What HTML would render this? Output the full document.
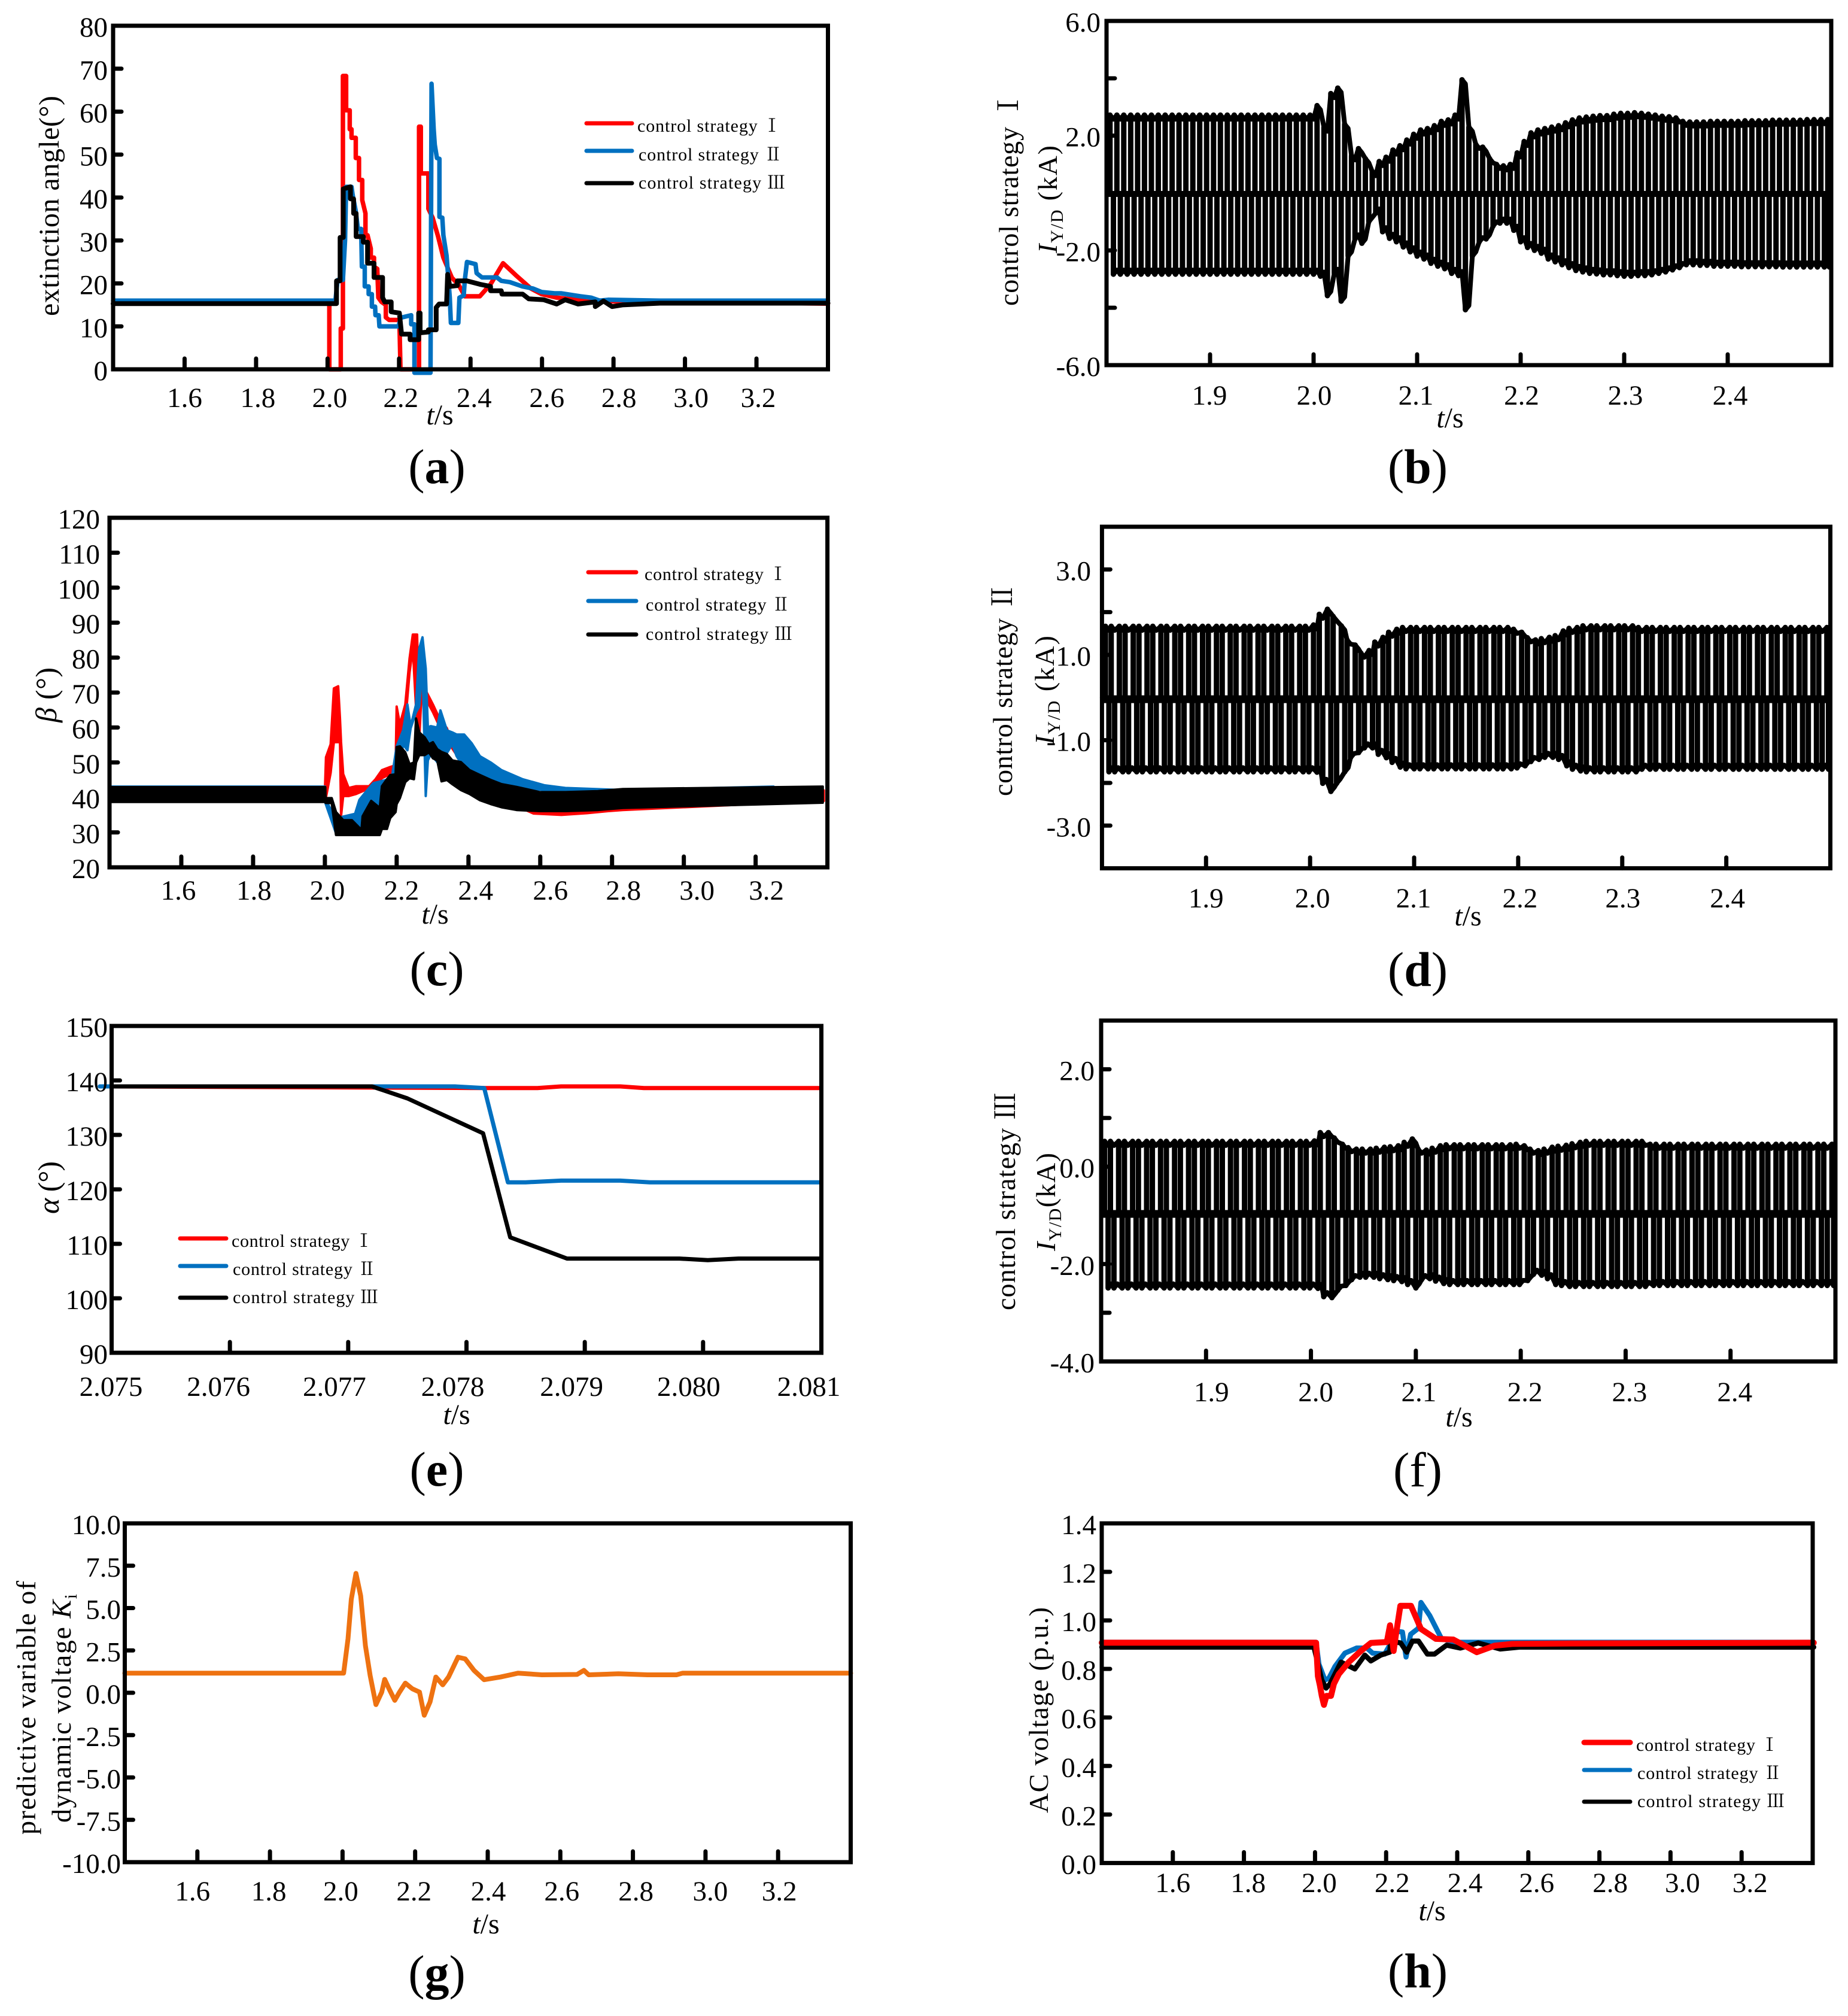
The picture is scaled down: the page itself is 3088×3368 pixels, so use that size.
<!DOCTYPE html>
<html lang="en">
<head>
<meta charset="utf-8">
<title>Control strategy comparison charts</title>
<style>
html,body{margin:0;padding:0;background:#fff;}
svg{display:block;}
text{font-family:"Liberation Serif","Noto Serif CJK SC",serif;fill:#000;}
.tick-label{font-size:47px;}
.axis-title{font-size:46px;text-anchor:middle;}
.legend-text{font-size:30px;}
.caption{font-size:82px;text-anchor:middle;}
.caption .letter{font-weight:bold;}
.i{font-style:italic;}
</style>
</head>
<body>
<svg id="figure" width="3088" height="3368" viewBox="0 0 3088 3368">
  <rect x="0" y="0" width="3088" height="3368" fill="#fff"/>

  <!-- axis titles -->
  <text class="axis-title" transform="translate(98,344) rotate(-90)" style="font-size:48px" textLength="368">extinction angle(°)</text>
  <text class="axis-title" x="735" y="709" style="font-size:48px"><tspan class="i">t</tspan>/s</text>

  <text class="axis-title" transform="translate(1701,332) rotate(-90)" textLength="358">control  strategy  Ⅰ</text>
  <text class="axis-title" transform="translate(1766,333) rotate(-90)" textLength="180"><tspan class="i">I</tspan><tspan dy="10" style="font-size:30px">Y/D</tspan><tspan dy="-10"> (kA)</tspan></text>
  <text class="axis-title" x="2423" y="714" style="font-size:48px"><tspan class="i">t</tspan>/s</text>

  <text class="axis-title" transform="translate(94,1161) rotate(-90)" style="font-size:50px" textLength="92"><tspan class="i">β</tspan> (°)</text>
  <text class="axis-title" x="727" y="1543" style="font-size:48px"><tspan class="i">t</tspan>/s</text>

  <text class="axis-title" transform="translate(1691,1152) rotate(-90)" textLength="356">control  strategy  Ⅱ</text>
  <text class="axis-title" transform="translate(1761,1153) rotate(-90)" textLength="182"><tspan class="i">I</tspan><tspan dy="10" style="font-size:30px">Y/D</tspan><tspan dy="-10"> (kA)</tspan></text>
  <text class="axis-title" x="2453" y="1546" style="font-size:48px"><tspan class="i">t</tspan>/s</text>

  <text class="axis-title" transform="translate(98,1984) rotate(-90)" style="font-size:50px" textLength="88"><tspan class="i">α</tspan> (°)</text>
  <text class="axis-title" x="763" y="2379" style="font-size:48px"><tspan class="i">t</tspan>/s</text>

  <text class="axis-title" transform="translate(1696,2007) rotate(-90)" textLength="364">control  strategy  Ⅲ</text>
  <text class="axis-title" transform="translate(1763,2008) rotate(-90)" textLength="164"><tspan class="i">I</tspan><tspan dy="10" style="font-size:30px">Y/D</tspan><tspan dy="-10">(kA)</tspan></text>
  <text class="axis-title" x="2438" y="2383" style="font-size:48px"><tspan class="i">t</tspan>/s</text>

  <text class="axis-title" transform="translate(59,2853) rotate(-90)" textLength="424">predictive variable of</text>
  <text class="axis-title" transform="translate(118,2854) rotate(-90)" textLength="382">dynamic voltage <tspan class="i">K</tspan><tspan dy="10" style="font-size:30px">i</tspan></text>
  <text class="axis-title" x="812" y="3230" style="font-size:48px"><tspan class="i">t</tspan>/s</text>

  <text class="axis-title" transform="translate(1751,2857) rotate(-90)" textLength="344">AC voltage (p.u.)</text>
  <text class="axis-title" x="2393" y="3208" style="font-size:48px"><tspan class="i">t</tspan>/s</text>

  <!-- captions -->
  <text class="caption" x="730" y="807">(<tspan class="letter">a</tspan>)</text>
  <text class="caption" x="2369" y="807">(<tspan class="letter">b</tspan>)</text>
  <text class="caption" x="730" y="1646">(<tspan class="letter">c</tspan>)</text>
  <text class="caption" x="2369" y="1647">(<tspan class="letter">d</tspan>)</text>
  <text class="caption" x="730" y="2482">(<tspan class="letter">e</tspan>)</text>
  <text class="caption" x="2369" y="2483">(f)</text>
  <text class="caption" x="730" y="3323">(<tspan class="letter">g</tspan>)</text>
  <text class="caption" x="2369" y="3320">(<tspan class="letter">h</tspan>)</text>

  <g id="plots"></g>

  <!-- legends -->
  <g stroke-width="7" stroke-linecap="round">
    <line x1="980" x2="1056" y1="206" y2="206" stroke="#ff0000"/>
    <line x1="980" x2="1056" y1="252" y2="252" stroke="#0070c0"/>
    <line x1="980" x2="1056" y1="306" y2="306" stroke="#000"/>
    <text class="legend-text" stroke="none" x="1065" y="220" textLength="240">control strategy Ⅰ</text>
    <text class="legend-text" stroke="none" x="1067" y="268" textLength="240">control strategy Ⅱ</text>
    <text class="legend-text" stroke="none" x="1067" y="315" textLength="245">control strategy Ⅲ</text>
  </g>
  <g stroke-width="7" stroke-linecap="round">
    <line x1="983" x2="1063" y1="956" y2="956" stroke="#ff0000"/>
    <line x1="983" x2="1063" y1="1004" y2="1004" stroke="#0070c0"/>
    <line x1="983" x2="1063" y1="1060" y2="1060" stroke="#000"/>
    <text class="legend-text" stroke="none" x="1077" y="969" textLength="238">control strategy Ⅰ</text>
    <text class="legend-text" stroke="none" x="1079" y="1020" textLength="241">control strategy Ⅱ</text>
    <text class="legend-text" stroke="none" x="1079" y="1069" textLength="245">control strategy Ⅲ</text>
  </g>
  <g stroke-width="7" stroke-linecap="round">
    <line x1="301" x2="378" y1="2069" y2="2069" stroke="#ff0000"/>
    <line x1="301" x2="378" y1="2115" y2="2115" stroke="#0070c0"/>
    <line x1="301" x2="378" y1="2168" y2="2168" stroke="#000"/>
    <text class="legend-text" stroke="none" x="387" y="2083" textLength="236">control strategy Ⅰ</text>
    <text class="legend-text" stroke="none" x="389" y="2130" textLength="239">control strategy Ⅱ</text>
    <text class="legend-text" stroke="none" x="389" y="2177" textLength="243">control strategy Ⅲ</text>
  </g>
  <g stroke-width="7" stroke-linecap="round">
    <line x1="2647" x2="2724" y1="2911" y2="2911" stroke="#ff0000" stroke-width="9"/>
    <line x1="2647" x2="2724" y1="2957" y2="2957" stroke="#0070c0"/>
    <line x1="2647" x2="2724" y1="3010" y2="3010" stroke="#000"/>
    <text class="legend-text" stroke="none" x="2734" y="2925" textLength="238">control strategy Ⅰ</text>
    <text class="legend-text" stroke="none" x="2736" y="2972" textLength="241">control strategy Ⅱ</text>
    <text class="legend-text" stroke="none" x="2736" y="3019" textLength="246">control strategy Ⅲ</text>
  </g>
</svg>

<script>
/* ---------- shared axis values ---------- */
const wideTimeTicks = [1.6,1.8,2.0,2.2,2.4,2.6,2.8,3.0,3.2];
const wideTimeLabels = ['1.6','1.8','2.0','2.2','2.4','2.6','2.8','3.0','3.2'];
const zoomTimeTicks = [1.9,2.0,2.1,2.2,2.3,2.4];
const zoomTimeLabels = ['1.9','2.0','2.1','2.2','2.3','2.4'];

/* ---------- panel a: extinction angle ---------- */
const aYTicks = [70,60,50,40,30,20,10];
const aYLabels = ['80','70','60','50','40','30','20','10','0'];
const aRedTime = [1.4,2.005,2.005,2.037,2.037,2.043,2.043,2.052,2.052,2.062,
  2.062,2.067,2.067,2.079,2.079,2.088,2.088,2.097,2.097,2.106,
  2.106,2.112,2.121,2.121,2.13,2.13,2.139,2.142,2.151,2.163,
  2.163,2.172,2.201,2.204,2.256,2.256,2.261,2.261,2.282,2.282,
  2.294,2.309,2.324,2.348,2.366,2.384,2.426,2.456,2.491,2.527,
  2.569,2.599,2.641,2.725,3.4];
const aRedValue = [15.3,15.3,0,0,9.5,9.5,68.3,68.3,60.3,60.3,
  55.9,55.9,53.9,53.9,49.2,49.2,44.1,44.1,39.4,36.3,
  31.2,31.2,28.1,26,26,23.9,23.4,16.7,15.7,15,
  12.1,11.5,11.5,0,0,56.5,56.5,45.6,45.6,37.4,
  35.3,31,26,21.3,19.8,17,17,19.8,24.7,21.9,
  18.8,17.5,16.7,15.9,15.3];
const aBlueTime = [1.4,2.022,2.028,2.043,2.049,2.052,2.067,2.07,2.079,2.085,
  2.094,2.096,2.104,2.104,2.115,2.115,2.124,2.124,2.133,2.134,
  2.143,2.145,2.199,2.204,2.234,2.234,2.243,2.243,2.288,2.291,
  2.297,2.3,2.306,2.313,2.313,2.321,2.324,2.333,2.342,2.345,
  2.366,2.369,2.381,2.384,2.39,2.414,2.417,2.432,2.474,2.486,
  2.51,2.545,2.575,2.599,2.635,2.653,2.707,2.737,2.761,2.785,
  2.93,3.4];
const aBlueValue = [16,16,20.8,20.8,30.1,42.5,42.5,40.7,36.8,32.7,
  32.7,23.9,23.9,19.3,19.3,17.5,17.5,14.6,14.6,12.6,
  12.6,10,10,12,12.6,10.5,10.5,-0.8,-0.8,66.5,
  55.9,52.3,49.2,49,35.5,35.3,31.2,26.5,16.7,10.8,
  10.8,16.7,17.2,20.8,25,24.5,22.4,21.4,21.4,20.6,
  20.3,19.3,18.8,18,17.7,17.7,17,16.7,16,16.2,
  16,16];
const aBlackTime = [1.4,2.025,2.025,2.035,2.035,2.044,2.044,2.064,2.064,2.073,
  2.073,2.08,2.08,2.1,2.1,2.112,2.112,2.13,2.13,2.154,
  2.154,2.16,2.178,2.178,2.201,2.207,2.231,2.231,2.255,2.255,
  2.259,2.259,2.282,2.282,2.304,2.304,2.312,2.333,2.336,2.342,
  2.363,2.363,2.39,2.426,2.456,2.456,2.486,2.488,2.546,2.563,
  2.605,2.641,2.665,2.701,2.749,2.749,2.772,2.796,2.825,2.93,
  3.4];
const aBlackValue = [15.3,15.3,20.6,20.6,30.7,30.7,42,42.5,39.7,39.7,
  36.3,36.3,30.9,30.9,29.6,29.6,24.7,24.7,21.4,21.4,
  16.7,15.7,15.7,13.4,13.1,8.2,8.2,6.9,6.9,13.1,
  13.1,8.5,8.7,9.2,9.2,14.4,15.2,15.2,22.1,19.3,
  19.5,20.6,20.6,19.8,19.3,18.3,18.3,17.5,17.5,16.4,
  16.2,15.2,16.2,15.2,15.7,14.6,15.9,14.6,15,15.4,
  15.4];

/* ---------- panel c: beta (ripple bands, high and low edge) ---------- */
const cYTicks = [110,100,90,80,70,60,50,40,30];
const cYLabels = ['120','110','100','90','80','70','60','50','40','30','20'];
const cRedTime = [1.4,2.0,2.003,2.016,2.025,2.037,2.042,2.045,2.051,2.066,
  2.087,2.123,2.141,2.159,2.182,2.197,2.2,2.209,2.224,2.236,
  2.245,2.257,2.263,2.269,2.284,2.301,2.319,2.34,2.355,2.4,
  2.48,2.581,2.659,2.73,2.79,2.83,3.39];
const cRedHigh = [42,42,51.5,55.2,71.2,71.8,62.6,55.8,46.7,42.7,
  43.2,43.2,45.2,47.8,48.7,49.2,66,60.9,66.6,79.8,
  86.6,86.6,60,72.6,70,66.6,62.6,59.8,55.2,50,
  44,38.1,38,38,38.5,39,42];
const cRedLow = [39,39,40,47,55.8,55.8,55.8,34.7,40.4,40.4,
  41,42.6,43.5,45.5,46.7,47.8,48,54.6,61.5,75.8,
  82.6,59.8,57,68.9,67.7,64.4,60.4,58,54,47,
  40,35.4,35,35.5,36.1,36.4,39];
const cBlueTime = [1.4,2.0,2.001,2.03,2.084,2.096,2.123,2.135,2.171,2.188,2.2,2.218,
  2.23,2.239,2.254,2.263,2.272,2.281,2.287,2.295,2.313,2.322,
  2.34,2.355,2.367,2.388,2.409,2.432,2.462,2.492,2.551,2.611,
  2.67,2.83,3.25];
const cBlueHigh = [43.1,43.1,39.5,34,35.3,39.3,42.7,44.1,45,46.6,54.6,59.2,
  66.6,60.3,66.6,82.6,85.8,76.9,60,60.4,60,64.9,
  59.2,58.6,58,58,55.5,51.8,50,47.8,45.2,43.5,
  42.7,42.1,43.1];
const cBlueLow = [39.8,39.8,38.5,30,30.7,30.7,33,34.1,42,44,42.1,55.2,
  53.5,59.8,64.4,66,77.5,40.4,50.6,52.4,50.1,52.7,
  52.7,55.2,51.8,48.4,46.7,45,43.8,43.2,42.7,42.1,
  41,40,38.5];
const cBlackTime = [1.4,2.001,2.002,2.019,2.031,2.051,2.075,2.102,2.105,2.129,
  2.153,2.159,2.173,2.182,2.197,2.2,2.209,2.224,2.236,2.248,
  2.254,2.263,2.278,2.29,2.301,2.313,2.325,2.34,2.355,2.379,
  2.403,2.432,2.462,2.492,2.534,2.599,2.67,2.76,2.83,3.387];
const cBlackHigh = [42.95,42.95,39.8,39.8,35.8,33.5,33.5,30.7,34.6,39,
  37,43.2,45.2,46.4,46.6,54.4,54.6,52.9,49.5,50,
  62.6,58.6,57.2,55.2,55.8,53.8,53,52.4,50.6,50.1,
  47.8,46.4,45,43.8,43,41.5,41.5,41.8,42.4,43.1];
const cBlackLow = [38.7,38.7,38.4,38.4,29.25,29.25,29.25,29.25,29.25,29.25,
  29.25,31,31,34.1,35.8,38.1,39.8,44.4,45.5,45.2,
  50,52.1,52.1,52.9,51.2,50.6,44.6,45,43.8,42.1,
  41,39.2,38.1,37.2,36.4,36.1,36.1,36.4,37,38.5];

/* ---------- panel e: alpha ---------- */
const eXTicks = [2.076,2.077,2.078,2.079,2.08];
const eXLabels = ['2.075','2.076','2.077','2.078','2.079','2.080','2.081'];
const eYTicks = [140,130,120,110,100];
const eYLabels = ['150','140','130','120','110','100','90'];
const eRedTime = [2.075,2.07815,2.0786,2.0788,2.0793,2.0795,2.081];
const eRedValue = [138.9,138.6,138.6,138.9,138.9,138.6,138.6];
const eBlueTime = [2.0749,2.0779,2.07815,2.07835,2.0785,2.0788,2.0793,2.07955,2.081];
const eBlueValue = [138.9,138.9,138.6,121.3,121.3,121.6,121.6,121.3,121.3];
const eBlackTime = [2.075,2.0772,2.0775,2.07814,2.07837,2.07885,2.0798,2.08004,2.0803,2.081];
const eBlackValue = [138.9,138.9,136.7,130.3,111.2,107.3,107.3,107,107.3,107.3];

/* ---------- panel g: Ki ---------- */
const gYTicks = [7.5,5,2.5,0,-2.5,-5,-7.5];
const gYLabels = ['10.0','7.5','5.0','2.5','0.0','-2.5','-5.0','-7.5','-10.0'];
const gOrangeTime = [1.4,2.003,2.015,2.024,2.037,2.05,2.063,2.076,2.092,2.108,2.116,2.128,2.144,2.157,2.173,2.192,2.212,2.225,2.241,2.257,2.276,2.292,2.318,2.338,2.362,2.39,2.435,2.484,2.549,2.646,2.665,2.678,2.76,2.84,2.92,2.937,3.4];
const gOrangeValue = [1.16,1.16,3.18,5.52,7.05,5.72,2.78,1.02,-0.7,0.04,0.79,0.24,-0.45,0.04,0.57,0.24,0.04,-1.33,-0.54,0.93,0.47,0.93,2.1,2,1.32,0.77,0.93,1.16,1.06,1.08,1.32,1.06,1.12,1.06,1.06,1.16,1.16];

/* ---------- panel h: AC voltage ---------- */
const hYTicks = [1.2,1.0,0.8,0.6,0.4,0.2];
const hYLabels = ['1.4','1.2','1.0','0.8','0.6','0.4','0.2','0.0'];
const hBlueTime = [1.4,2.003,2.011,2.028,2.039,2.056,2.084,2.117,2.146,2.162,2.196,2.207,2.227,2.246,2.256,2.269,2.291,2.298,2.323,2.356,2.398,2.555,3.403];
const hBlueValue = [0.91,0.91,0.82,0.754,0.762,0.81,0.865,0.886,0.886,0.865,0.861,0.89,0.956,0.952,0.849,0.943,0.968,1.074,1.019,0.924,0.91,0.91,0.91];
const hBlackTime = [1.4,1.997,2.019,2.031,2.042,2.073,2.112,2.14,2.157,2.185,2.21,2.213,2.241,2.258,2.274,2.291,2.316,2.336,2.37,2.409,2.459,2.521,2.577,3.403];
const hBlackValue = [0.89,0.89,0.754,0.721,0.738,0.828,0.8,0.857,0.833,0.857,0.869,0.915,0.907,0.869,0.915,0.915,0.861,0.861,0.898,0.886,0.907,0.882,0.89,0.89];
const hRedTime = [1.4,2.003,2.008,2.014,2.019,2.025,2.032,2.045,2.053,2.067,2.095,2.129,2.157,2.202,2.211,2.216,2.221,2.227,2.24,2.27,2.298,2.34,2.389,2.455,2.505,2.555,2.72,3.403];
const hRedValue = [0.908,0.908,0.77,0.73,0.689,0.652,0.689,0.689,0.738,0.779,0.828,0.874,0.907,0.911,0.98,0.935,0.874,0.935,1.06,1.06,0.965,0.924,0.921,0.869,0.896,0.903,0.905,0.908];

/* ---------- converter current panels: one peak per commutation pulse ---------- */
const pulseStartTime = 1.8;
const pulseSpacing = 0.7 / 105;

const bYTicks = [4,2,0,-2,-4];
const bYLabels = ['6.0','2.0','-2.0','-6.0'];
const bBaseline = -0.03;
const bTopPeaks = [2.72,2.72,2.72,2.72,2.72,2.72,2.72,2.72,2.72,2.72,
  2.72,2.72,2.72,2.72,2.72,2.72,2.72,2.72,2.72,2.72,
  2.72,2.72,2.72,2.72,2.72,2.72,2.72,2.72,2.72,2.72,
  3.05,2.3,3.47,3.66,2.4,1.3,1.55,1.2,0.75,1.1,
  1.25,1.5,1.65,1.85,2.05,2.2,2.25,2.35,2.5,2.55,
  2.72,3.95,2.3,1.7,1.6,1.2,1.0,0.95,1.0,1.4,
  1.8,2.1,2.2,2.25,2.3,2.35,2.45,2.55,2.62,2.65,
  2.68,2.7,2.7,2.75,2.78,2.78,2.8,2.78,2.75,2.72,
  2.68,2.66,2.62,2.5,2.48,2.48,2.48,2.5,2.5,2.5,
  2.5,2.5,2.52,2.52,2.52,2.52,2.54,2.54,2.54,2.54,
  2.54,2.56,2.56,2.56,2.56];
const bBottomPeaks = [-2.83,-2.83,-2.83,-2.83,-2.83,-2.83,-2.83,-2.83,-2.83,-2.83,
  -2.83,-2.83,-2.83,-2.83,-2.83,-2.83,-2.83,-2.83,-2.83,-2.83,
  -2.83,-2.83,-2.83,-2.83,-2.83,-2.83,-2.83,-2.83,-2.83,-2.83,
  -2.9,-3.58,-2.8,-3.77,-2.2,-1.6,-1.75,-1.0,-0.7,-1.35,
  -1.58,-1.7,-1.88,-2.05,-2.2,-2.3,-2.45,-2.55,-2.64,-2.8,
  -2.88,-4.07,-2.2,-1.7,-1.6,-1.15,-1.05,-1.05,-1.3,-1.7,
  -1.9,-2.0,-2.1,-2.3,-2.4,-2.5,-2.6,-2.7,-2.75,-2.8,
  -2.82,-2.85,-2.85,-2.88,-2.9,-2.9,-2.88,-2.88,-2.85,-2.8,
  -2.75,-2.68,-2.6,-2.5,-2.5,-2.52,-2.52,-2.55,-2.55,-2.55,
  -2.55,-2.57,-2.57,-2.57,-2.57,-2.57,-2.57,-2.58,-2.58,-2.58,
  -2.58,-2.58,-2.58,-2.58,-2.58];

const dYTicks = [3,2,1,0,-1,-2,-3];
const dYLabels = ['3.0','1.0','-1.0','-3.0'];
const dBaseline = -0.04;
const dTopPeaks = [1.67,1.67,1.67,1.67,1.67,1.67,1.67,1.67,1.67,1.67,
  1.67,1.67,1.67,1.67,1.67,1.67,1.67,1.67,1.67,1.67,
  1.67,1.67,1.67,1.67,1.67,1.67,1.67,1.67,1.67,1.67,
  1.7,1.95,2.07,1.9,1.68,1.35,1.23,1.04,1.1,1.3,
  1.41,1.53,1.6,1.64,1.64,1.64,1.64,1.64,1.64,1.64,
  1.64,1.64,1.64,1.64,1.64,1.64,1.64,1.64,1.64,1.6,
  1.53,1.4,1.35,1.38,1.41,1.45,1.56,1.62,1.64,1.68,
  1.68,1.68,1.68,1.68,1.68,1.68,1.68,1.64,1.64,1.64,
  1.64,1.64,1.64,1.64,1.64,1.64,1.64,1.64,1.64,1.64,
  1.64,1.64,1.64,1.64,1.64,1.64,1.64,1.64,1.64,1.64,
  1.64,1.64,1.64,1.64,1.64];
const dBottomPeaks = [-1.74,-1.74,-1.74,-1.74,-1.74,-1.74,-1.74,-1.74,-1.74,-1.74,
  -1.74,-1.74,-1.74,-1.74,-1.74,-1.74,-1.74,-1.74,-1.74,-1.74,
  -1.74,-1.74,-1.74,-1.74,-1.74,-1.74,-1.74,-1.74,-1.74,-1.74,
  -1.75,-2.01,-2.2,-2.01,-1.74,-1.41,-1.29,-1.18,-1.18,-1.33,
  -1.41,-1.52,-1.63,-1.67,-1.67,-1.67,-1.67,-1.67,-1.67,-1.67,
  -1.67,-1.67,-1.67,-1.67,-1.67,-1.67,-1.67,-1.67,-1.67,-1.65,
  -1.6,-1.5,-1.45,-1.4,-1.4,-1.45,-1.6,-1.68,-1.72,-1.74,
  -1.74,-1.74,-1.74,-1.74,-1.74,-1.74,-1.74,-1.68,-1.68,-1.68,
  -1.68,-1.68,-1.68,-1.68,-1.68,-1.68,-1.68,-1.68,-1.68,-1.68,
  -1.68,-1.68,-1.68,-1.68,-1.68,-1.68,-1.68,-1.68,-1.68,-1.68,
  -1.68,-1.68,-1.68,-1.68,-1.68];

const fYTicks = [2,1,0,-1,-2,-3];
const fYLabels = ['2.0','0.0','-2.0','-4.0'];
const fBaseline = -0.97;
const fTopPeaks = [0.52,0.52,0.52,0.52,0.52,0.52,0.52,0.52,0.52,0.52,
  0.52,0.52,0.52,0.52,0.52,0.52,0.52,0.52,0.52,0.52,
  0.52,0.52,0.52,0.52,0.52,0.52,0.52,0.52,0.52,0.52,
  0.53,0.7,0.7,0.59,0.46,0.39,0.36,0.36,0.36,0.38,
  0.4,0.41,0.43,0.5,0.57,0.36,0.34,0.38,0.43,0.45,
  0.45,0.45,0.45,0.45,0.45,0.45,0.45,0.45,0.45,0.46,
  0.43,0.36,0.33,0.36,0.4,0.42,0.44,0.47,0.5,0.52,
  0.52,0.52,0.52,0.52,0.52,0.52,0.52,0.52,0.46,0.46,
  0.46,0.46,0.46,0.46,0.46,0.46,0.46,0.46,0.46,0.46,
  0.46,0.46,0.46,0.46,0.46,0.46,0.46,0.46,0.46,0.46,
  0.46,0.46,0.46,0.46,0.46];
const fBottomPeaks = [-2.49,-2.49,-2.49,-2.49,-2.49,-2.49,-2.49,-2.49,-2.49,-2.49,
  -2.49,-2.49,-2.49,-2.49,-2.49,-2.49,-2.49,-2.49,-2.49,-2.49,
  -2.49,-2.49,-2.49,-2.49,-2.49,-2.49,-2.49,-2.49,-2.49,-2.49,
  -2.5,-2.67,-2.69,-2.54,-2.44,-2.32,-2.27,-2.27,-2.27,-2.3,
  -2.32,-2.34,-2.36,-2.42,-2.49,-2.32,-2.3,-2.35,-2.4,-2.42,
  -2.42,-2.42,-2.42,-2.42,-2.42,-2.42,-2.42,-2.42,-2.42,-2.42,
  -2.34,-2.21,-2.23,-2.3,-2.42,-2.44,-2.46,-2.46,-2.46,-2.46,
  -2.46,-2.46,-2.46,-2.46,-2.46,-2.46,-2.46,-2.46,-2.44,-2.44,
  -2.44,-2.44,-2.44,-2.44,-2.44,-2.44,-2.44,-2.44,-2.44,-2.44,
  -2.44,-2.44,-2.44,-2.44,-2.44,-2.44,-2.44,-2.44,-2.44,-2.44,
  -2.44,-2.44,-2.44,-2.44,-2.44];

/* ---------- drawing helpers ---------- */
const SVG_NS = document.getElementById('figure').namespaceURI;
const plots = document.getElementById('plots');
const RED = '#ff0000', BLUE = '#0070c0', BLACK = '#000000', ORANGE = '#ee7211';

function make(tag, parent, name) {
  const el = document.createElementNS(SVG_NS, tag);
  
  
  parent.appendChild(el);
  return el;
}

function setAll(el, pairs) {
  for (const k in pairs) el.setAttribute(k, pairs[k]);
  return el;
}

function drawAxes(p) {
  const g = make('g', plots, 'panel-' + p.id);
  const x = t => p.left + (t - p.xMin) / (p.xMax - p.xMin) * (p.right - p.left);
  const y = v => p.bottom - (v - p.yMin) / (p.yMax - p.yMin) * (p.bottom - p.top);
  const data = make('g', g, 'panel-' + p.id + '-series');
  const axes = make('g', g, 'panel-' + p.id + '-axes');
  setAll(make('rect', axes, 'panel-' + p.id + '-frame'), {
    x: p.left, y: p.top, width: p.right - p.left, height: p.bottom - p.top,
    fill: 'none', stroke: '#000', 'stroke-width': 7
  });
  p.xTicks.forEach(t => {
    setAll(make('line', axes, 'panel-' + p.id + '-x-tick'), {
      x1: x(t), x2: x(t), y1: p.bottom, y2: p.bottom - 18,
      stroke: '#000', 'stroke-width': 7, 'stroke-linecap': 'round'
    });
  });
  p.yTicks.forEach(v => {
    setAll(make('line', axes, 'panel-' + p.id + '-y-tick'), {
      x1: p.left, x2: p.left + 14, y1: y(v), y2: y(v),
      stroke: '#000', 'stroke-width': 7, 'stroke-linecap': 'round'
    });
  });
  p.xLabels.forEach((s, i) => {
    const el = make('text', axes, 'panel-' + p.id + '-x-tick-label');
    setAll(el, { class: 'tick-label', x: x(parseFloat(s)) + p.xNudge[i], y: p.xLabelY, 'text-anchor': 'middle' });
    el.textContent = s;
  });
  p.yLabels.forEach(s => {
    const el = make('text', axes, 'panel-' + p.id + '-y-tick-label');
    setAll(el, { class: 'tick-label', x: p.yLabelX, y: y(parseFloat(s)) + 18, 'text-anchor': 'end' });
    el.textContent = s;
  });
  return { x, y, g: data, xStart: p.xMin, xEnd: p.xMax };
}

function drawLine(ax, name, times, values, color, width) {
  const d = times.map((t, i) => (i ? 'L' : 'M') + ax.x(t).toFixed(1) + ' ' + ax.y(values[i]).toFixed(1)).join('');
  setAll(make('path', ax.g, name), {
    d, fill: 'none', stroke: color, 'stroke-width': width,
    'stroke-linejoin': 'round', 'stroke-linecap': 'round'
  });
}

function drawBand(ax, name, times, highs, lows, color) {
  const up = times.map((t, i) => (i ? 'L' : 'M') + ax.x(t).toFixed(1) + ' ' + ax.y(highs[i]).toFixed(1)).join('');
  const down = times.map((t, i) => ({ t, v: lows[i] })).reverse()
    .map(o => 'L' + ax.x(o.t).toFixed(1) + ' ' + ax.y(o.v).toFixed(1)).join('');
  setAll(make('path', ax.g, name), {
    d: up + down + 'Z', fill: color, stroke: color, 'stroke-width': 4, 'stroke-linejoin': 'round'
  });
}

function drawPulses(ax, prefix, baseline, topPeaks, bottomPeaks, barWidth, baseWidth, pairShift) {
  const step = ax.x(pulseStartTime + pulseSpacing) - ax.x(pulseStartTime);
  const xEnd = ax.x(ax.xEnd) - 3;
  const xOf = i => Math.min(xEnd, ax.x(pulseStartTime + i * pulseSpacing) + step * 0.5 - (i % 2 ? pairShift : 0));
  const y0 = ax.y(baseline);
  const topBars = topPeaks.map((v, i) => 'M' + xOf(i).toFixed(1) + ' ' + y0.toFixed(1) + 'V' + ax.y(v).toFixed(1)).join('');
  const botBars = bottomPeaks.map((v, i) => 'M' + Math.min(xEnd, xOf(i) + step / 2).toFixed(1) + ' ' + y0.toFixed(1) + 'V' + ax.y(v).toFixed(1)).join('');
  setAll(make('path', ax.g, prefix + '-positive-pulses'), { d: topBars, fill: 'none', stroke: '#000', 'stroke-width': barWidth, 'stroke-linecap': 'round' });
  setAll(make('path', ax.g, prefix + '-negative-pulses'), { d: botBars, fill: 'none', stroke: '#000', 'stroke-width': barWidth, 'stroke-linecap': 'round' });
  const ridge = (peaks, dir, shift) => peaks.map((v, i) => {
    const px = Math.min(xEnd, xOf(i) + shift), py = ax.y(v);
    return (i ? 'L' : 'M') + px.toFixed(1) + ' ' + py.toFixed(1) + 'L' + Math.min(xEnd, px + step / 2).toFixed(1) + ' ' + (py + dir * 7).toFixed(1);
  }).join('');
  setAll(make('path', ax.g, prefix + '-positive-envelope'), { d: ridge(topPeaks, 1, 0), fill: 'none', stroke: '#000', 'stroke-width': 8, 'stroke-linejoin': 'round', 'stroke-linecap': 'round' });
  setAll(make('path', ax.g, prefix + '-negative-envelope'), { d: ridge(bottomPeaks, -1, step / 2), fill: 'none', stroke: '#000', 'stroke-width': 8, 'stroke-linejoin': 'round', 'stroke-linecap': 'round' });
  setAll(make('line', ax.g, prefix + '-baseline'), { x1: ax.x(ax.xStart), x2: ax.x(ax.xEnd), y1: y0, y2: y0, stroke: '#000', 'stroke-width': baseWidth });
}

/* ---------- panels ---------- */
const axA = drawAxes({ id: 'a', left: 189, right: 1383.5, top: 43, bottom: 617, xMin: 1.4, xMax: 3.4, yMin: 0, yMax: 80,
  xTicks: wideTimeTicks, xLabels: wideTimeLabels, xNudge: [0,3,3.5,3,6,8,9,10,3], xLabelY: 680,
  yTicks: aYTicks, yLabels: aYLabels, yLabelX: 180 });
drawLine(axA, 'panel-a-strategy-1-line', aRedTime, aRedValue, RED, 7.5);
drawLine(axA, 'panel-a-strategy-2-line', aBlueTime, aBlueValue, BLUE, 7.5);
drawLine(axA, 'panel-a-strategy-3-line', aBlackTime, aBlackValue, BLACK, 8);

const axB = drawAxes({ id: 'b', left: 1849, right: 3060, top: 35, bottom: 610, xMin: 1.8, xMax: 2.5, yMin: -6, yMax: 6,
  xTicks: zoomTimeTicks, xLabels: zoomTimeLabels, xNudge: [-1,1,-2,1.5,2,4], xLabelY: 676,
  yTicks: bYTicks, yLabels: bYLabels, yLabelX: 1839 });
drawPulses(axB, 'panel-b-current', bBaseline, bTopPeaks, bBottomPeaks, 9, 10, 0);

const axC = drawAxes({ id: 'c', left: 183, right: 1382.6, top: 865, bottom: 1449, xMin: 1.4, xMax: 3.4, yMin: 20, yMax: 120,
  xTicks: wideTimeTicks, xLabels: wideTimeLabels, xNudge: [-5,1.5,4,8,12,17,19,22,18], xLabelY: 1503,
  yTicks: cYTicks, yLabels: cYLabels, yLabelX: 167 });
drawBand(axC, 'panel-c-strategy-1-band', cRedTime, cRedHigh, cRedLow, RED);
drawBand(axC, 'panel-c-strategy-2-band', cBlueTime, cBlueHigh, cBlueLow, BLUE);
drawBand(axC, 'panel-c-strategy-3-band', cBlackTime, cBlackHigh, cBlackLow, BLACK);

const axD = drawAxes({ id: 'd', left: 1841.4, right: 3058.5, top: 880, bottom: 1450.6, xMin: 1.8, xMax: 2.5, yMin: -4, yMax: 4,
  xTicks: zoomTimeTicks, xLabels: zoomTimeLabels, xNudge: [0,4,-1,3,1,2], xLabelY: 1516,
  yTicks: dYTicks, yLabels: dYLabels, yLabelX: 1823 });
drawPulses(axD, 'panel-d-current', dBaseline, dTopPeaks, dBottomPeaks, 9, 13, 2);

const axE = drawAxes({ id: 'e', left: 186.5, right: 1372.5, top: 1714, bottom: 2260, xMin: 2.075, xMax: 2.081, yMin: 90, yMax: 150,
  xTicks: eXTicks, xLabels: eXLabels, xNudge: [-1,-19,-23,-23,-22,-24,-21], xLabelY: 2332,
  yTicks: eYTicks, yLabels: eYLabels, yLabelX: 180 });
drawLine(axE, 'panel-e-strategy-1-line', eRedTime, eRedValue, RED, 7);
drawLine(axE, 'panel-e-strategy-2-line', eBlueTime, eBlueValue, BLUE, 7);
drawLine(axE, 'panel-e-strategy-3-line', eBlackTime, eBlackValue, BLACK, 7);

const axF = drawAxes({ id: 'f', left: 1840, right: 3067, top: 1705, bottom: 2274.5, xMin: 1.8, xMax: 2.5, yMin: -4, yMax: 3,
  xTicks: zoomTimeTicks, xLabels: zoomTimeLabels, xNudge: [9,8,5,7,6.5,7], xLabelY: 2341,
  yTicks: fYTicks, yLabels: fYLabels, yLabelX: 1829 });
drawPulses(axF, 'panel-f-current', fBaseline, fTopPeaks, fBottomPeaks, 9, 13, 2);

const axG = drawAxes({ id: 'g', left: 208.5, right: 1421.5, top: 2545, bottom: 3111, xMin: 1.4, xMax: 3.4, yMin: -10, yMax: 10,
  xTicks: wideTimeTicks, xLabels: wideTimeLabels, xNudge: [-8,-2,-3,-2,1,2.5,5,8,2], xLabelY: 3175,
  yTicks: gYTicks, yLabels: gYLabels, yLabelX: 202 });
drawLine(axG, 'panel-g-ki-line', gOrangeTime, gOrangeValue, ORANGE, 8);

const axH = drawAxes({ id: 'h', left: 1841, right: 3029, top: 2545, bottom: 3112.4, xMin: 1.4, xMax: 3.4, yMin: 0, yMax: 1.4,
  xTicks: wideTimeTicks, xLabels: wideTimeLabels, xNudge: [0,7,7,10,13,14,18,20,14], xLabelY: 3161,
  yTicks: hYTicks, yLabels: hYLabels, yLabelX: 1832 });
drawLine(axH, 'panel-h-strategy-2-line', hBlueTime, hBlueValue, BLUE, 8.5);
drawLine(axH, 'panel-h-strategy-3-line', hBlackTime, hBlackValue, BLACK, 8.5);
drawLine(axH, 'panel-h-strategy-1-line', hRedTime, hRedValue, RED, 10);
</script>
</body>
</html>
